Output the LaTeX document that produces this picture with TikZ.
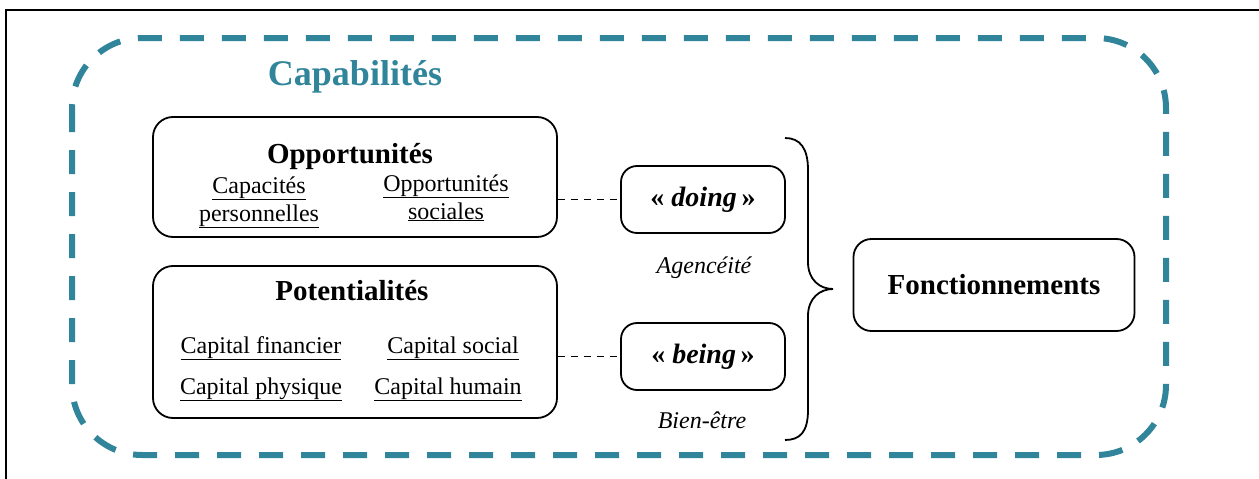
\documentclass[tikz,border=0pt]{standalone}
\usepackage{fontspec}
\setmainfont{Liberation Serif}
\usetikzlibrary{positioning}

\definecolor{capteal}{RGB}{49,133,155}

\tikzset{
  box/.style={draw, line width=1.8pt, rounded corners=20pt, inner sep=0pt},
  smallbox/.style={box, rounded corners=16pt, minimum width=164pt, minimum height=67pt,
    font=\fontsize{28}{34}\selectfont\bfseries},
  head/.style={anchor=base, inner sep=0pt, font=\fontsize{29}{34}\selectfont\bfseries},
  item/.style={anchor=base, inner sep=0pt, align=center, font=\fontsize{24}{28}\selectfont},
  note/.style={anchor=base, inner sep=0pt, font=\fontsize{24}{28}\selectfont\itshape},
  link/.style={line width=1.6pt, dash pattern=on 7pt off 6pt},
}

\begin{document}
\begin{tikzpicture}[x=1pt,y=-1pt]
    \useasboundingbox (0,0) rectangle (1259,479);

    % frame of the figure, cut by the page
    \draw[line width=2pt] (6,479) -- (6,10) -- (1259,10);

    % the capabilities area
    \draw[capteal, line width=6pt, dash pattern=on 24pt off 18pt, rounded corners=70pt]
        (72,38) rectangle (1166,455);
    \node[anchor=base, inner sep=0pt, text=capteal,
          font=\fontsize{36}{42}\selectfont\bfseries] (capab) at (355,85) {Capabilités};

    % opportunities
    \node[box, minimum width=404pt, minimum height=120pt] (opp) at (355,177) {};
    \node[head] (opptitle) at (350,163) {Opportunités};
    \node[item] (perso) at (259,221) {\underline{Capacités}\\\underline{personnelles}};
    \node[item] (soc) at (446,219) {\underline{Opportunités}\\\underline{sociales}};

    % potentialities
    \node[box, minimum width=404pt, minimum height=152pt] (pot) at (355,342) {};
    \node[head] (pottitle) at (352,300) {Potentialités};
    \node[item] (fin) at (261,353) {\underline{Capital financier}};
    \node[item] (csoc) at (453,353) {\underline{Capital social}};
    \node[item] (phys) at (261,394) {\underline{Capital physique}};
    \node[item] (hum) at (448,394) {\underline{Capital humain}};

    % doing and being
    \node[smallbox] (doing) at (703,199.5) {«~\textit{doing}\,»};
    \node[smallbox] (being) at (703,356.5) {«~\textit{being}\,»};
    \node[note] (agency) at (704,273) {Agencéité};
    \node[note] (wellb) at (702,428) {Bien-être};

    \draw[link] (doing.west -| opp.east) -- (doing.west);
    \draw[link] (being.west -| pot.east) -- (being.west);

    % the brace
    \coordinate (tip) at (833,289);
    \draw[line width=1.8pt] (785,138) .. controls (800,138) and (808,148) .. (808,170)
        -- (808,262) .. controls (808,280) and (820,289) .. (tip)
        .. controls (820,289) and (808,298) .. (808,316)
        -- (808,410) .. controls (808,432) and (800,440) .. (785,440);

    % functionings
    \node[box, rounded corners=18pt, minimum width=281pt, minimum height=92pt,
          font=\fontsize{29}{34}\selectfont\bfseries] (fonct) at (994,285) {Fonctionnements};
\end{tikzpicture}
\end{document}
